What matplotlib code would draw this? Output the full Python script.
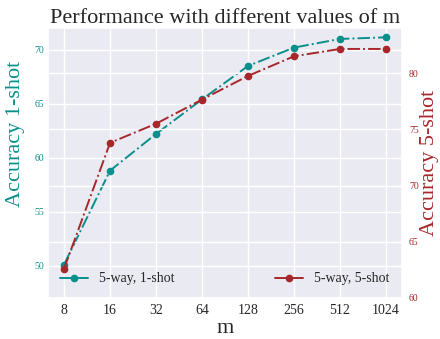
import matplotlib
matplotlib.use("Agg")
import matplotlib.pyplot as plt
from matplotlib.lines import Line2D
import seaborn as sns
import numpy as np

m_labels = ["8", "16", "32", "64", "128", "256", "512", "1024"]
acc_1shot = [50.1, 58.8, 62.2, 65.4, 68.5, 70.2, 71.0, 71.15]
acc_5shot = [62.6, 73.8, 75.5, 77.65, 79.75, 81.5, 82.15, 82.15]

teal = "#0b8f8c"
red = "#a8272b"

sns.set_theme(style="darkgrid")
plt.rcParams["font.family"] = ["Liberation Serif", "DejaVu Serif"]

fig = plt.figure(figsize=(4.4, 3.39), dpi=100)
ax = fig.add_axes([0.109, 0.121, 0.805, 0.796])
x = np.arange(len(m_labels))

ax.plot(x, acc_1shot, "-.o", color=teal, markersize=4.5, linewidth=1.4)
ax.set_ylim(47, 72)
ax.set_yticks([50, 55, 60, 65, 70])
ax.tick_params(axis="y", labelsize=7, colors=teal, length=0, pad=3)
ax.tick_params(axis="x", labelsize=10, length=0, pad=4)
ax.set_ylabel("Accuracy 1-shot", color=teal, fontsize=16)
ax.yaxis.set_label_coords(-0.065, 0.61)
ax.set_xticks(x)
ax.set_xticklabels(m_labels)
ax.set_xlim(-0.35, 7.35)
ax.set_xlabel("m", fontsize=16, labelpad=2)
# legend handles drawn as solid lines, like in the original
h1 = Line2D([], [], color=teal, marker="o", markersize=4.5, linewidth=1.4)
ax.legend([h1], ["5-way, 1-shot"], loc="lower left", frameon=False, fontsize=10)

ax2 = ax.twinx()
ax2.plot(x, acc_5shot, "-.o", color=red, markersize=4.5, linewidth=1.4)
ax2.set_ylim(60, 84)
ax2.set_yticks([60, 65, 70, 75, 80])
ax2.tick_params(axis="y", labelsize=7, colors=red, length=0, pad=5)
ax2.set_ylabel("Accuracy 5-shot", color=red, fontsize=16)
ax2.yaxis.set_label_coords(1.051, 0.5)
h2 = Line2D([], [], color=red, marker="o", markersize=4.5, linewidth=1.4)
ax2.legend([h2], ["5-way, 5-shot"], loc="lower right", frameon=False, fontsize=10)
for s in ax2.spines.values():
    s.set_visible(False)

ax.set_title("Performance with different values of m", fontsize=16, pad=4)

fig.savefig("out.png", dpi=100)
